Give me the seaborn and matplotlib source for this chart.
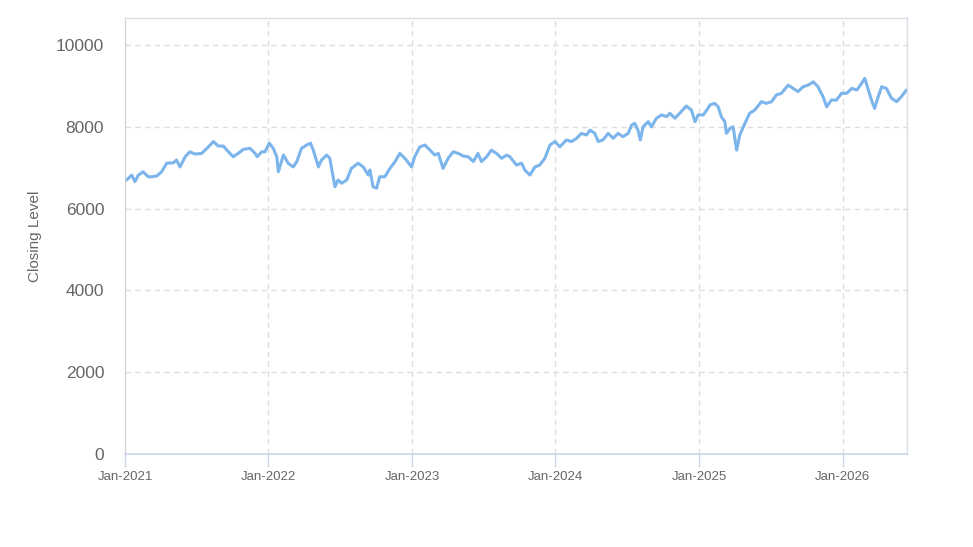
import pandas as pd
import numpy as np
import matplotlib
matplotlib.use("Agg")
import matplotlib.pyplot as plt
import matplotlib.dates as mdates
import seaborn as sns

# valores (aprox. cada 2 semanas)
fechas = [
    "2021-01-05", "2021-01-18", "2021-01-26", "2021-02-04", "2021-02-16", "2021-03-01",
    "2021-03-10", "2021-03-23", "2021-04-04", "2021-04-17", "2021-05-04", "2021-05-12",
    "2021-05-21", "2021-06-03", "2021-06-15", "2021-06-28", "2021-07-15", "2021-08-01",
    "2021-08-14", "2021-08-26", "2021-09-08", "2021-09-21", "2021-10-03", "2021-10-16",
    "2021-10-29", "2021-11-15", "2021-11-28", "2021-12-03", "2021-12-15", "2021-12-23",
    "2022-01-03", "2022-01-13", "2022-01-22", "2022-01-26", "2022-02-08", "2022-02-20",
    "2022-03-05", "2022-03-14", "2022-03-26", "2022-04-08", "2022-04-18", "2022-04-25",
    "2022-05-08", "2022-05-12", "2022-05-16", "2022-05-29", "2022-06-06", "2022-06-19",
    "2022-06-27", "2022-07-06", "2022-07-19", "2022-07-31", "2022-08-17", "2022-08-30",
    "2022-09-12", "2022-09-16", "2022-09-24", "2022-10-03", "2022-10-11", "2022-10-24",
    "2022-11-06", "2022-11-19", "2022-12-01", "2022-12-14", "2022-12-31", "2023-01-08",
    "2023-01-21", "2023-02-03", "2023-02-16", "2023-02-28", "2023-03-09", "2023-03-21",
    "2023-04-03", "2023-04-16", "2023-04-29", "2023-05-11", "2023-05-24", "2023-06-06",
    "2023-06-18", "2023-06-27", "2023-07-10", "2023-07-22", "2023-08-04", "2023-08-17",
    "2023-08-30", "2023-09-07", "2023-09-24", "2023-10-07", "2023-10-15", "2023-10-28",
    "2023-11-10", "2023-11-22", "2023-12-05", "2023-12-18", "2023-12-31", "2024-01-12",
    "2024-01-29", "2024-02-11", "2024-02-24", "2024-03-07", "2024-03-20", "2024-03-29",
    "2024-04-10", "2024-04-19", "2024-05-01", "2024-05-14", "2024-05-27", "2024-06-08",
    "2024-06-21", "2024-07-04", "2024-07-13", "2024-07-21", "2024-07-29", "2024-08-04",
    "2024-08-11", "2024-08-24", "2024-09-01", "2024-09-14", "2024-09-27", "2024-10-10",
    "2024-10-18", "2024-10-31", "2024-11-12", "2024-11-29", "2024-12-12", "2024-12-21",
    "2024-12-29", "2025-01-11", "2025-01-23", "2025-01-28", "2025-02-09", "2025-02-18",
    "2025-02-26", "2025-03-07", "2025-03-11", "2025-03-20", "2025-03-28", "2025-04-06",
    "2025-04-14", "2025-04-27", "2025-05-09", "2025-05-22", "2025-06-08", "2025-06-21",
    "2025-07-04", "2025-07-16", "2025-07-29", "2025-08-15", "2025-08-28", "2025-09-09",
    "2025-09-22", "2025-10-05", "2025-10-18", "2025-10-30", "2025-11-12", "2025-11-21",
    "2025-12-03", "2025-12-16", "2025-12-29", "2026-01-11", "2026-01-24", "2026-02-06",
    "2026-02-18", "2026-02-26", "2026-03-07", "2026-03-15", "2026-03-23", "2026-04-01",
    "2026-04-10", "2026-04-22", "2026-05-05", "2026-05-18", "2026-05-30", "2026-06-12",
]
cierre = [
    6700, 6820, 6660, 6820, 6900, 6780,
    6780, 6800, 6900, 7110, 7120, 7190,
    7020, 7270, 7390, 7335, 7350, 7510,
    7640, 7530, 7530, 7390, 7270, 7350,
    7450, 7475, 7350, 7270, 7390, 7390,
    7600, 7475, 7270, 6900, 7310, 7110,
    7020, 7150, 7475, 7555, 7600, 7430,
    7020, 7110, 7190, 7310, 7230, 6535,
    6700, 6620, 6700, 6985, 7110, 7020,
    6820, 6945, 6535, 6500, 6780, 6780,
    6985, 7150, 7350, 7230, 7020, 7270,
    7510, 7555, 7430, 7310, 7350, 6985,
    7230, 7390, 7350, 7285, 7270, 7150,
    7350, 7150, 7270, 7430, 7350, 7230,
    7310, 7270, 7065, 7110, 6945, 6820,
    7020, 7065, 7230, 7555, 7640, 7510,
    7680, 7640, 7720, 7840, 7800, 7920,
    7840, 7640, 7680, 7840, 7720, 7840,
    7760, 7840, 8045, 8085, 7920, 7680,
    8000, 8125, 8000, 8210, 8290, 8250,
    8330, 8210, 8330, 8510, 8410, 8125,
    8290, 8290, 8450, 8535, 8575, 8490,
    8250, 8125, 7840, 7960, 8000, 7430,
    7800, 8085, 8330, 8410, 8615, 8575,
    8615, 8780, 8820, 9020, 8940, 8860,
    8980, 9020, 9100, 8980, 8735, 8490,
    8655, 8655, 8820, 8820, 8940, 8900,
    9065, 9185, 8900, 8655, 8450, 8735,
    8980, 8940, 8700, 8615, 8735, 8900,
]

df = pd.DataFrame({"Fecha": pd.to_datetime(fechas), "Cierre": cierre})

sns.set_style("white")
plt.rcParams['font.family'] = ['Liberation Sans', 'DejaVu Sans']

fig = plt.figure(figsize=(9.73, 5.47), dpi=100)
ax = fig.add_axes([0.1285, 0.170, 0.8035, 0.797])

sns.lineplot(data=df, x="Fecha", y="Cierre", color="#7cb5ec", linewidth=2.2, ax=ax)

ax.set_xlim(pd.Timestamp("2021-01-01"), pd.Timestamp("2026-06-13"))
ax.set_ylim(0, 10660)
ax.set_yticks([0, 2000, 4000, 6000, 8000, 10000])

ax.xaxis.set_major_locator(mdates.YearLocator())
ax.xaxis.set_major_formatter(mdates.DateFormatter("%b-%Y"))

# rejilla discontinua
ax.grid(True, linestyle=(0, (4, 3)), color="#dedede", linewidth=1)
ax.set_axisbelow(True)

for lado in ["top", "right"]:
    ax.spines[lado].set_color("#d8dde6")
    ax.spines[lado].set_linewidth(1)
ax.spines["left"].set_color("#d0d0d0")
ax.spines["bottom"].set_color("#ccd6eb")
ax.spines["bottom"].set_linewidth(1.2)

ax.tick_params(axis="y", left=False, length=0, pad=15, labelsize=12.5, labelcolor="#666666")
ax.tick_params(axis="x", bottom=True, direction="out", length=9, width=1,
               color="#ccd6eb", pad=3, labelsize=9.5, labelcolor="#666666")

ax.set_xlabel("")
ax.set_ylabel("Closing Level", fontsize=11, color="#666666")
ax.yaxis.set_label_coords(-0.106, 0.5)

plt.savefig("out.png", dpi=100)
